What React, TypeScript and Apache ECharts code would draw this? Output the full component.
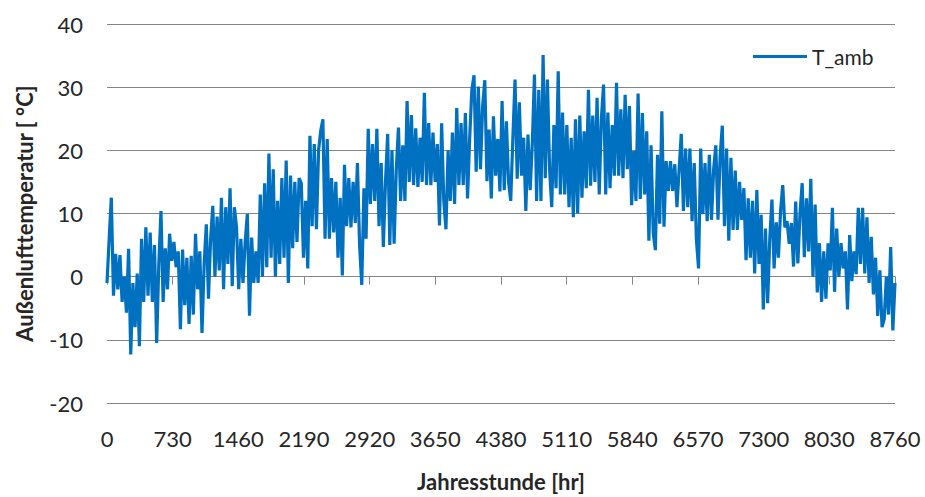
import React, { useEffect, useRef } from "react";
import * as echarts from "echarts";

// Hourly outdoor temperature, read off the reference roughly once per day (24 h step)
const HOUR_STEP = 24;
const temps: number[] = [
  -1, 6, 12.5, -3, 3.6, -2, 3.4, -4, 0, -5.7,
  4.4, -12.3, -1, -8, 0.5, -11, 6, -4, 7.8, -3,
  7, -4, 5, -10.5, 2, 10.4, -4, 4.5, -2, 6.8,
  2.5, 5.5, 1.5, 4, -8.3, 4.3, -4.5, 3, -7.5, 3.3,
  -6, 6.8, -2, 4, -8.9, 2, 8.3, -3.5, 6, 11.2,
  0, 9.5, 1, 12.5, -2, 11, 2, 14, -1.5, 11,
  7.8, -2, 6, -1, 5.5, 9.9, -6.2, 6.2, -1, 4,
  -1, 13, 0, 14.8, 1.5, 19.5, 3, 17, 0, 12,
  2, 15.6, 3, 18.4, -1, 16, 4.5, 15, 5.5, 15.6,
  14.8, 3, 12, 1.3, 22.3, 8, 21, 7.5, 20, 23.1,
  24.9, 6, 21.8, 6, 15.6, 7, 15, 3, 12.5, 0.2,
  17.7, 8, 15.6, 7.8, 15, 8.5, 18, 5, -1.3, 14,
  6, 23.4, 11.5, 21, 12, 23.4, 8, 18, 4.7, 15,
  22.6, 5, 20, 5.2, 17, 23.6, 12, 20.8, 12, 27.8,
  15, 25.6, 14.5, 23.5, 14.2, 22, 15, 29.1, 14.5, 24.3,
  14.5, 22.8, 15, 21, 8.1, 24.3, 12, 7.5, 20, 12,
  22.8, 11.5, 26.7, 14.5, 24.3, 14.5, 25.9, 12.4, 22, 29.6,
  31.9, 16.6, 30.1, 17, 27, 31.1, 15.1, 23.3, 12.4, 25.4,
  16, 21.8, 13.5, 27.8, 13.7, 24.6, 15, 12, 22, 31.2,
  15.5, 27.6, 16, 22, 10.4, 22.5, 13.7, 21, 32, 12,
  29.6, 12, 35.1, 15.6, 31.2, 17, 11, 24, 14, 32.5,
  13, 26, 13, 24, 11, 22, 9.4, 24.9, 10, 25.5,
  12.5, 23, 14, 29.6, 14.4, 25.5, 15, 28.3, 13, 25,
  30.4, 13, 26, 14, 24, 16, 30.7, 16, 26.5, 15.6,
  28.8, 17, 27, 11.3, 19.9, 12, 29, 12.3, 25.9, 13,
  23, 5.7, 20.8, 7, 4.2, 19.3, 8.4, 26.2, 7.9, 18.3,
  13.6, 18.3, 13.6, 17.8, 11, 17, 22.6, 10.4, 20.3, 11,
  20.3, 8.8, 18, 6, 1.3, 20.3, 9.9, 18, 8.8, 19.3,
  9, 17, 20.8, 9, 19, 23.9, 8, 20.3, 5.7, 18.8,
  7.4, 16.8, 7.4, 15, 9, 14, 2.6, 12.4, 3, 12,
  0.5, 13.7, 2, 9.8, -5.2, 7.6, -4.2, 6, 12.2, 1.3,
  8.6, 3, 10.4, 14.5, 7.8, 8.8, 5.2, 8.5, 1.6, 11.9,
  2.1, 10, 14.8, 3.1, 12.4, 4, 15.5, 0, 11.4, -2.5,
  5.3, -4, 4, -3.5, 5.3, 1, 10.9, -2.4, 7.6, 0,
  5.3, 1.3, 4, -5.2, 6.6, -0.7, 4, 0.4, 10.9, 2,
  10.9, 0.5, 9.4, -1, 6.3, -2.8, 3, -6.2, 1, -8,
  -6.7, 0, -6, 4.7, -8.5, -1,
];

const seriesName = "T_amb";
const xTitle = "Jahresstunde [hr]";
const yTitle = "Außenlufttemperatur [ °C]";
const xMin = 0;
const xMax = 8760;
const xInterval = 730;
const yMin = -20;
const yMax = 40;
const yInterval = 10;

const FONT = "Lato, 'Open Sans', 'Noto Sans', sans-serif";
const BLUE = "#0070C0";
const GRID_GRAY = "#868686";
const TEXT = "#262626";

export default function App() {
  const ref = useRef<HTMLDivElement>(null);

  useEffect(() => {
    document.body.style.margin = "0";
    if (!ref.current) return;
    const chart = echarts.init(ref.current, undefined, { renderer: "svg" });
    const data = temps.map((t, i) => [i * HOUR_STEP, t]);
    chart.setOption({
      animation: false,
      backgroundColor: "#ffffff",
      textStyle: { fontFamily: FONT },
      grid: { left: 107, right: 30, top: 24, bottom: 89, containLabel: false },
      legend: {
        show: true,
        data: [seriesName],
        left: 748,
        top: 41,
        icon: "rect",
        itemWidth: 54,
        itemHeight: 3,
        textStyle: { fontFamily: FONT, fontSize: 21, color: TEXT },
      },
      xAxis: {
        type: "value",
        min: xMin,
        max: xMax,
        interval: xInterval,
        name: xTitle,
        nameLocation: "middle",
        nameGap: 67,
        nameTextStyle: { fontFamily: FONT, fontSize: 22, fontWeight: "bold", color: TEXT },
        axisLine: { show: true, lineStyle: { color: GRID_GRAY, width: 1 } },
        axisTick: { show: true, inside: false, length: 8, lineStyle: { color: GRID_GRAY } },
        axisLabel: {
          fontFamily: FONT,
          fontSize: 22,
          color: TEXT,
          margin: 24,
          formatter: (v: number) => String(v),
        },
        splitLine: { show: false },
      },
      yAxis: {
        type: "value",
        min: yMin,
        max: yMax,
        interval: yInterval,
        name: yTitle,
        nameLocation: "middle",
        nameRotate: 90,
        nameGap: 72,
        nameTextStyle: { fontFamily: FONT, fontSize: 22, fontWeight: "bold", color: TEXT },
        axisLine: { show: false },
        axisTick: { show: false },
        axisLabel: { fontFamily: FONT, fontSize: 22, color: TEXT, margin: 24 },
        splitLine: { show: true, lineStyle: { color: GRID_GRAY, width: 1 } },
      },
      series: [
        {
          name: seriesName,
          type: "line",
          data,
          showSymbol: false,
          symbol: "none",
          lineStyle: { color: BLUE, width: 3.2, join: "bevel" },
          itemStyle: { color: BLUE },
        },
      ],
    });
    return () => chart.dispose();
  }, []);

  return <div ref={ref} style={{ width: 925, height: 497 }} />;
}
